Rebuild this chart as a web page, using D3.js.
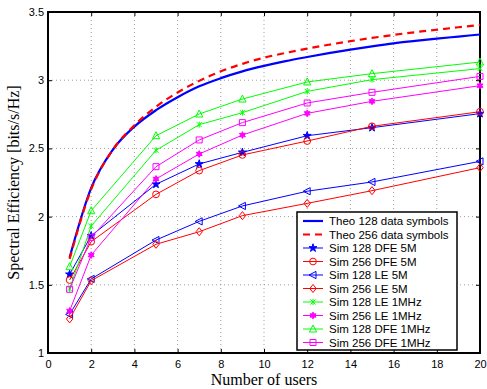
<!DOCTYPE html>
<html>
<head>
<meta charset="utf-8">
<script src="https://cdn.jsdelivr.net/npm/d3@7"></script>
<style>
  body { margin: 0; background: #fff; }
  svg { display: block; }
  .tick text { font-family: "Liberation Sans", Arial, sans-serif; font-size: 11px; }
</style>
</head>
<body>
<svg id="chart" width="487" height="389"></svg>
<script>
// data
var usersTheo = [1, 2, 3, 4, 5, 6, 7, 8, 9, 10, 11, 12, 13, 14, 15, 16, 17, 18, 19, 20];
var theo128 = [1.70, 2.21, 2.49, 2.66, 2.78, 2.875, 2.955, 3.015, 3.065, 3.105, 3.14, 3.17, 3.198, 3.224, 3.248, 3.27, 3.288, 3.305, 3.32, 3.335];
var theo256 = [1.69, 2.20, 2.49, 2.67, 2.805, 2.91, 2.995, 3.065, 3.12, 3.165, 3.20, 3.232, 3.26, 3.286, 3.31, 3.332, 3.352, 3.37, 3.388, 3.405];

var usersSim = [1, 2, 5, 7, 9, 12, 15, 20];
var sim128DFE5M = [1.577, 1.86, 2.237, 2.386, 2.471, 2.593, 2.652, 2.755];
var sim256DFE5M = [1.535, 1.816, 2.163, 2.337, 2.452, 2.554, 2.662, 2.769];
var sim128LE5M = [1.283, 1.543, 1.828, 1.965, 2.078, 2.186, 2.254, 2.405];
var sim256LE5M = [1.25, 1.53, 1.797, 1.889, 2.007, 2.097, 2.19, 2.359];
var sim128LE1M = [1.47, 1.931, 2.486, 2.674, 2.762, 2.918, 3.004, 3.085];
var sim256LE1M = [1.308, 1.718, 2.276, 2.459, 2.598, 2.757, 2.845, 2.96];
var sim128DFE1M = [1.633, 2.043, 2.593, 2.752, 2.862, 2.987, 3.048, 3.133];
var sim256DFE1M = [1.467, 1.848, 2.366, 2.562, 2.689, 2.833, 2.911, 3.028];

var xTicks = [0, 2, 4, 6, 8, 10, 12, 14, 16, 18, 20];
var yTicks = [1, 1.5, 2, 2.5, 3, 3.5];

// series table built from the arrays above
var theoSeries = [
  {name: "Theo 128 data symbols", y: theo128, color: "#0000ff", dash: null},
  {name: "Theo 256 data symbols", y: theo256, color: "#ff0000", dash: "7,5"}
];
var simSeries = [
  {name: "Sim 128 DFE 5M", y: sim128DFE5M, color: "#0000ff", marker: "star"},
  {name: "Sim 256 DFE 5M", y: sim256DFE5M, color: "#ff0000", marker: "circle"},
  {name: "Sim 128 LE 5M", y: sim128LE5M, color: "#0000ff", marker: "triLeft"},
  {name: "Sim 256 LE 5M", y: sim256LE5M, color: "#ff0000", marker: "diamond"},
  {name: "Sim 128 LE 1MHz", y: sim128LE1M, color: "#00ff00", marker: "x"},
  {name: "Sim 256 LE 1MHz", y: sim256LE1M, color: "#ff00ff", marker: "hexagram"},
  {name: "Sim 128 DFE 1MHz", y: sim128DFE1M, color: "#00ff00", marker: "triUp"},
  {name: "Sim 256 DFE 1MHz", y: sim256DFE1M, color: "#ff00ff", marker: "square"}
];

// plot box
var margin = {top: 12, right: 7, bottom: 36, left: 48},
    width = 487 - margin.left - margin.right,
    height = 389 - margin.top - margin.bottom;

var svg = d3.select("#chart");
var g = svg.append("g").attr("transform", "translate(" + margin.left + "," + margin.top + ")");

var x = d3.scaleLinear().domain([0, 20]).range([0, width]);
var y = d3.scaleLinear().domain([1, 3.5]).range([height, 0]);

// dotted grid
g.selectAll(".gx").data(xTicks.slice(1, -1)).enter().append("line")
  .attr("x1", d => x(d)).attr("x2", d => x(d)).attr("y1", 0).attr("y2", height)
  .attr("stroke", "#888").attr("stroke-width", 0.8).attr("stroke-dasharray", "1,3");
g.selectAll(".gy").data(yTicks.slice(1, -1)).enter().append("line")
  .attr("y1", d => y(d)).attr("y2", d => y(d)).attr("x1", 0).attr("x2", width)
  .attr("stroke", "#888").attr("stroke-width", 0.8).attr("stroke-dasharray", "1,3");

// axes (ticks inward, MATLAB style)
var xAxis = g.append("g").attr("transform", "translate(0," + height + ")")
  .call(d3.axisBottom(x).tickValues(xTicks).tickSizeInner(-4).tickSizeOuter(0).tickPadding(7));
var yAxis = g.append("g")
  .call(d3.axisLeft(y).tickValues(yTicks).tickFormat(d3.format("")).tickSizeInner(-4).tickSizeOuter(0).tickPadding(4));
var xTop = g.append("g")
  .call(d3.axisTop(x).tickValues(xTicks).tickSizeInner(-4).tickSizeOuter(0).tickFormat(""));
var yRight = g.append("g").attr("transform", "translate(" + width + ",0)")
  .call(d3.axisRight(y).tickValues(yTicks).tickSizeInner(-4).tickSizeOuter(0).tickFormat(""));
[xAxis, yAxis, xTop, yRight].forEach(function(a) {
  a.select(".domain").remove();
  a.selectAll(".tick line").attr("stroke", "#000");
  a.selectAll(".tick text").attr("fill", "#000");
});

// frame
g.append("rect").attr("width", width).attr("height", height)
  .attr("fill", "none").attr("stroke", "#000").attr("stroke-width", 2);

// theory curves
var theoLine = d3.line().x((d, i) => x(usersTheo[i])).y(d => y(d)).curve(d3.curveMonotoneX);
g.selectAll(".theo").data(theoSeries).enter().append("path")
  .attr("d", d => theoLine(d.y))
  .attr("fill", "none").attr("stroke", d => d.color).attr("stroke-width", 2.2)
  .attr("stroke-linejoin", "round")
  .attr("stroke-dasharray", d => d.dash);

// marker shapes
function markerPath(type) {
  switch (type) {
    case "circle": return d3.symbol(d3.symbolCircle, 36)();
    case "square": return "M-3,-3H3V3H-3Z";
    case "diamond": return "M0,-4L3.2,0L0,4L-3.2,0Z";
    case "triUp": return "M0,-4L3.6,3L-3.6,3Z";
    case "triLeft": return "M-4,0L3,-3.6L3,3.6Z";
    case "x": return "M-2.5,-2.5L2.5,2.5M-2.5,2.5L2.5,-2.5M0,-3V3";
    case "star": return d3.symbol(d3.symbolStar, 20)();
    case "hexagram":
      var pts = [];
      for (var k = 0; k < 12; k++) {
        var rr = k % 2 ? 1.8 : 3.4, a = Math.PI / 6 * k - Math.PI / 2;
        pts.push([rr * Math.cos(a), rr * Math.sin(a)]);
      }
      return "M" + pts.join("L") + "Z";
  }
}
function drawMarker(sel, s) {
  sel.append("path").attr("d", markerPath(s.marker))
    .attr("fill", s.marker === "star" || s.marker === "hexagram" ? s.color : "none")
    .attr("stroke", s.color).attr("stroke-width", 1);
}

// simulation curves
var simLine = d3.line().x((d, i) => x(usersSim[i])).y(d => y(d));
simSeries.forEach(function(s) {
  g.append("path").attr("d", simLine(s.y))
    .attr("fill", "none").attr("stroke", s.color).attr("stroke-width", 1);
  s.y.forEach(function(v, i) {
    var m = g.append("g").attr("transform", "translate(" + x(usersSim[i]) + "," + y(v) + ")");
    drawMarker(m, s);
  });
});

// axis titles
svg.append("text")
  .attr("x", margin.left + width / 2).attr("y", 385)
  .attr("text-anchor", "middle")
  .style("font-family", "'Liberation Serif', 'Times New Roman', serif").style("font-size", "16px")
  .text("Number of users");
svg.append("text")
  .attr("transform", "translate(19," + (margin.top + height / 2) + ") rotate(-90)")
  .attr("text-anchor", "middle")
  .style("font-family", "'Liberation Serif', 'Times New Roman', serif").style("font-size", "16px")
  .text("Spectral Efficiency [bits/s/Hz]");

// legend
var legend = svg.append("g").attr("transform", "translate(297,212)");
legend.append("rect").attr("width", 160).attr("height", 138)
  .attr("fill", "#fff").attr("stroke", "#000").attr("stroke-width", 1.5);
var legendItems = theoSeries.concat(simSeries);
legendItems.forEach(function(s, i) {
  var row = legend.append("g").attr("transform", "translate(0," + (9 + i * 13.5) + ")");
  row.append("line").attr("x1", 6).attr("x2", 26)
    .attr("stroke", s.color).attr("stroke-width", s.marker ? 1 : 2.2)
    .attr("stroke-dasharray", s.dash || null);
  if (s.marker) {
    var m = row.append("g").attr("transform", "translate(16,0)");
    drawMarker(m, s);
  }
  row.append("text").attr("x", 32).attr("y", 0).attr("dy", "0.35em")
    .style("font-family", "'Liberation Sans', Arial, sans-serif").style("font-size", "11.5px")
    .text(s.name);
});
</script>
</body>
</html>
